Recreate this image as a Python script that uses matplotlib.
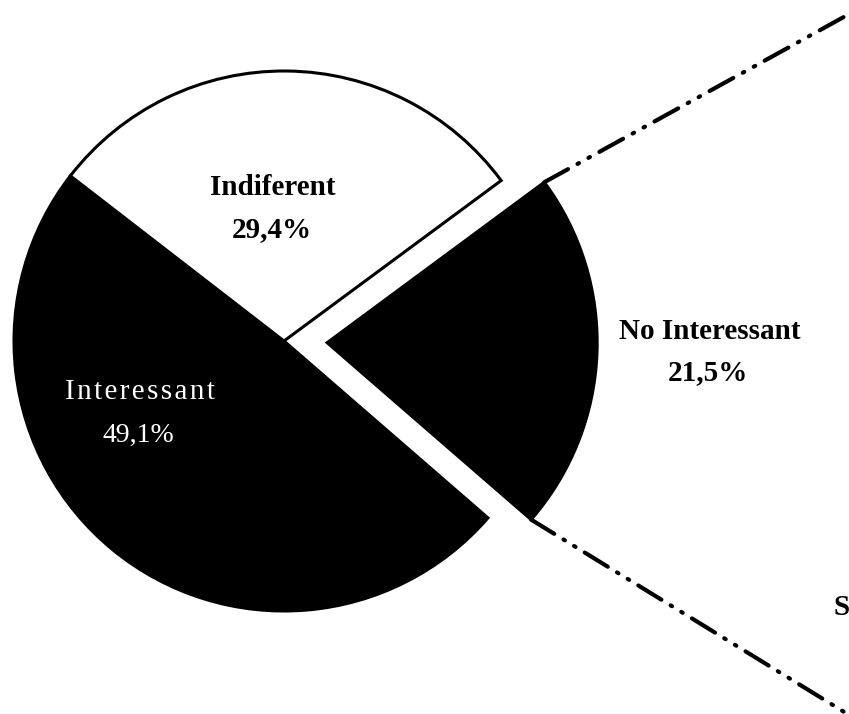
import numpy as np
from matplotlib import pyplot as plt

# slice data (order as drawn counterclockwise from the start angle)
labels = ['Interessant', 'No Interessant', 'Indiferent']
values = [49.1, 21.5, 29.4]
pct_labels = ['49,1%', '21,5%', '29,4%']
colors = ['black', 'black', 'white']
explode_frac = [0.0, 0.16, 0.0]

plt.rcParams['font.family'] = ['Liberation Serif', 'DejaVu Serif']

fig = plt.figure(figsize=(8.49, 7.14), dpi=100)
ax = fig.add_axes([0, 0, 1, 1])

radius = 270
center = (284, 373)

wedges, _ = ax.pie(values, colors=colors, startangle=142.3, counterclock=True,
                   radius=radius, center=center, frame=True,
                   explode=[e * radius for e in explode_frac],
                   wedgeprops=dict(edgecolor='black', linewidth=2.2))

ax.set_xlim(0, 849)
ax.set_ylim(0, 714)
ax.set_aspect('equal')
ax.axis('off')

#connector lines from the exploded slice towards the (cut off) second chart
w = wedges[1]
cx, cy = w.center
for ang, end in [(w.theta2, (880, 717)), (w.theta1, (880, -20))]:
    sx = cx + radius * np.cos(np.radians(ang))
    sy = cy + radius * np.sin(np.radians(ang))
    ax.plot([sx, end[0]], [sy, end[1]], color='black', lw=3.0,
            linestyle=(0, (6.5, 2.6, 0.4, 2.6, 0.4, 2.6)),
            dash_capstyle='round', clip_on=False)

# labels
ax.text(273, 519, 'Indiferent', ha='center', va='baseline',
        fontsize=21, fontweight='bold', color='black')
ax.text(272, 477, pct_labels[2], ha='center', va='baseline',
        fontsize=21, fontweight='bold', color='black')
ax.text(140, 315, 'I n t e r e s s a n t'.replace(' ', '\u200a'), ha='center', va='baseline',
        fontsize=21, color='white')
ax.text(138, 272, pct_labels[0], ha='center', va='baseline',
        fontsize=20, color='white')
ax.text(710, 375, 'No Interessant', ha='center', va='baseline',
        fontsize=21, fontweight='bold', color='black')
ax.text(708, 334, pct_labels[1], ha='center', va='baseline',
        fontsize=21, fontweight='bold', color='black')
ax.text(834, 99, 'S', ha='left', va='baseline',
        fontsize=21, fontweight='bold', color='black')

fig.savefig('out.png', dpi=100, facecolor='white')
